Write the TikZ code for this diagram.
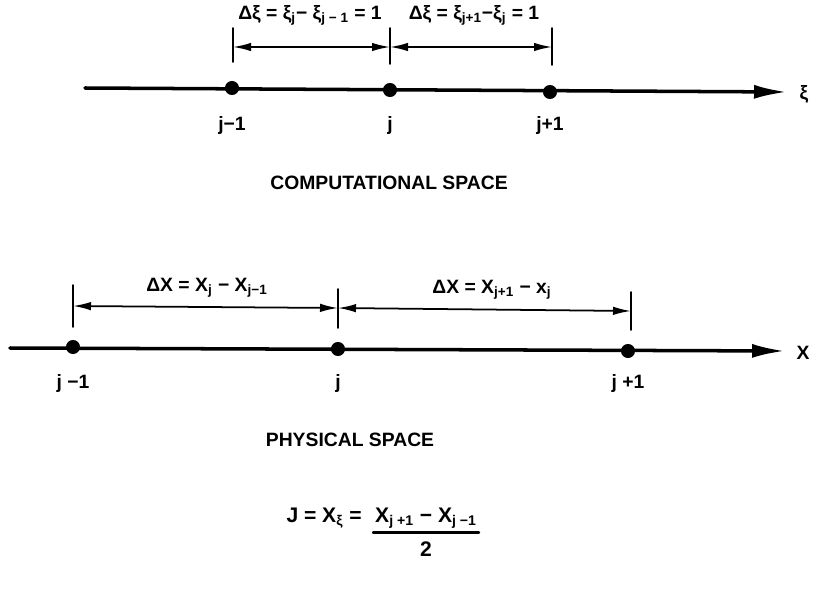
\documentclass[tikz,border=0pt]{standalone}
\usepackage{fontspec}
\setmainfont{Liberation Sans}
\usetikzlibrary{arrows.meta}
\begin{document}
\begin{tikzpicture}[x=0.02cm,y=-0.02cm,line join=round,line cap=round,
    font=\bfseries\fontsize{11}{12}\selectfont,
    axis/.style={line width=2pt,-{Latex[length=0.66cm,width=0.28cm]}},
    dim/.style={line width=1pt,{Latex[length=0.36cm,width=0.17cm]}-{Latex[length=0.36cm,width=0.17cm]}},
    tickline/.style={line width=1pt},
    pt/.style={circle,fill=black,inner sep=0pt,minimum size=8pt},
    title/.style={font=\bfseries\fontsize{11}{13}\selectfont}]
\useasboundingbox (0,0) rectangle (813,591);
% computational space
\path (85,88) coordinate (cL) (787,92) coordinate (cR);
\draw[axis] (cL)--(cR);
\node at (804,94) (xi) {ξ};
\foreach \n/\x/\y/\t in {c1/232/88/j−1,c2/390/90/j,c3/550/92/j+1}
  {\node[pt] (\n) at (\x,\y) {};
   \node (\n l) at (\x,126) {\t};}
\foreach \n/\x/\a/\b in {ct1/233/28/62,ct2/390/28/64,ct3/552/28/65}
  {\draw[tickline] (\x,\a) coordinate (\n a)--(\x,\b) coordinate (\n b);
   \coordinate (\n) at (\x,47);}
\draw[dim] (ct1)--(ct2);
\draw[dim] (ct2)--(ct3);
\node (dxi1) at (310,15) {Δξ = ξ\textsubscript{j}− ξ\textsubscript{j − 1} = 1};
\node (dxi2) at (474,15) {Δξ = ξ\textsubscript{j+1}−ξ\textsubscript{j} = 1};
\node[title] (comp) at (389,183) {COMPUTATIONAL SPACE};
% physical space
\path (10,348) coordinate (pL) (785,351) coordinate (pR);
\draw[axis] (pL)--(pR);
\node at (803,353) (xx) {X};
\foreach \n/\x/\y/\t in {p1/73/347/j −1,p2/338/349/j,p3/628/351/j +1}
  {\node[pt] (\n) at (\x,\y) {};
   \node (\n l) at (\x,383) {\t};}
\foreach \n/\x/\a/\b/\m in {pt1/73/285/327/306,pt2/338/289/328/308,pt3/631/292/330/311}
  {\draw[tickline] (\x,\a) coordinate (\n a)--(\x,\b) coordinate (\n b);
   \coordinate (\n) at (\x,\m);}
\draw[dim] (pt1)--(pt2);
\draw[dim] (pt2)--(pt3);
\node (dx1) at (207,288) {ΔX = X\textsubscript{j} − X\textsubscript{j−1}};
\node (dx2) at (492,290) {ΔX = X\textsubscript{j+1} − x\textsubscript{j}};
\node[title] (phys) at (350,440) {PHYSICAL SPACE};
% metric
\node[font=\bfseries\fontsize{12}{14}\selectfont,anchor=base,inner sep=1pt] (num) at (426,522)
  {X\textsubscript{j +1} − X\textsubscript{j −1}};
\draw[line width=1.5pt] (num.south west)++(0,2)coordinate (fa)--(num.south east|-fa) coordinate (fb);
\node[font=\bfseries\fontsize{12}{14}\selectfont] (den) at (426,549) {2};
\node[font=\bfseries\fontsize{12}{14}\selectfont,anchor=base east] (jac) at ([xshift=-3pt]num.base west) {J = X\textsubscript{ξ} =};
\end{tikzpicture}
\end{document}
